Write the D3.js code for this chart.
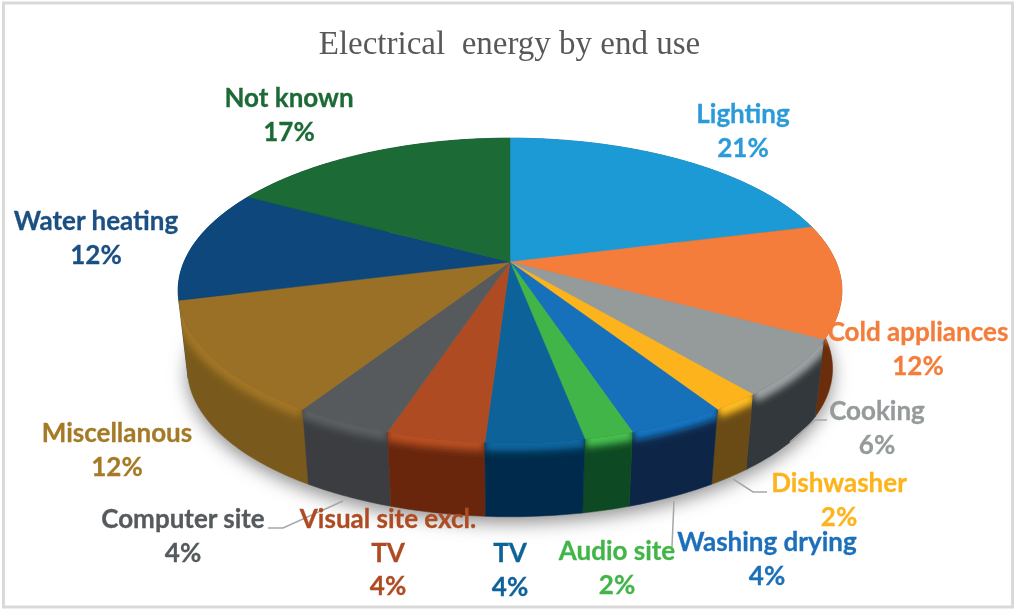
<!DOCTYPE html>
<html>
<head>
<meta charset="utf-8">
<script src="https://d3js.org/d3.v7.min.js"></script>
<style>
  html, body { margin: 0; padding: 0; background: #fff; }
  svg { display: block; }
  text { font-family: Lato, "Open Sans", sans-serif; font-weight: 700; }
</style>
</head>
<body>
<div id="chart-area"></div>
<script>
// Values
var categories = ["Lighting", "Cold appliances", "Cooking", "Dishwasher", "Washing drying", "Audio site",
    "TV", "Visual site excl. TV", "Computer site", "Miscellanous", "Water heating", "Not known"];
var shares = [21, 12, 6, 2, 4, 2, 4, 4, 4, 12, 12, 17];

var topColors = ["#1f9ad6", "#f47d3a", "#959a9b", "#fdb41e", "#1570ba", "#43b549",
    "#0a6399", "#ae4c22", "#565a5c", "#9a6f25", "#09467b", "#1d6a36"];
var sideColors = ["#0f4d6b", "#6b2d0c", "#33383b", "#6b4c14", "#0d2747", "#0f4a22",
    "#042c4b", "#6a2810", "#3b3e40", "#7a5a1c", "#0a3d70", "#0f3a1d"];
var textColors = ["#2a9bd8", "#f47d3a", "#959a9b", "#fdb41e", "#1e6fba", "#43b549",
    "#0f6499", "#ae4c22", "#565a5c", "#a57a28", "#1a4f82", "#1d6a36"];

// Where each label sits: centre x, first baseline, wrapped lines
var labelLayout = [
    { x: 743, y: 123, lines: ["Lighting"] },
    { x: 918, y: 341, lines: ["Cold appliances"] },
    { x: 877, y: 420, lines: ["Cooking"] },
    { x: 839, y: 492, lines: ["Dishwasher"] },
    { x: 767, y: 551, lines: ["Washing drying"] },
    { x: 617, y: 560, lines: ["Audio site"] },
    { x: 510, y: 562, lines: ["TV"] },
    { x: 388, y: 528, lines: ["Visual site excl.", "TV"] },
    { x: 183, y: 528, lines: ["Computer site"] },
    { x: 117, y: 442, lines: ["Miscellanous"] },
    { x: 96, y: 230, lines: ["Water heating"] },
    { x: 289, y: 107, lines: ["Not known"] }
];

var leaders = [
    [[790, 442], [815, 420], [827, 420]],
    [[733, 479], [753, 492], [767, 492]],
    [[674, 501], [672, 547]],
    [[343, 501], [283, 528], [268, 528]]
];

var width = 1017, height = 610;

// Pie geometry: apex of the tilted disc, perspective factor, thickness
var apex = { x: 510, y: 262 };
var radiusX = 326, radiusY = 147, persp = 0.187;
var depthShift = 79, depthScale = 0.972;

function rimPoint(a) {
    var s = 1 / (1 + persp * Math.cos(a));
    return [apex.x + radiusX * Math.sin(a) * s, apex.y - radiusY * Math.cos(a) * s];
}

function lowerPoint(a) {
    var p = rimPoint(a);
    return [apex.x + (p[0] - apex.x) * depthScale, apex.y + depthShift + (p[1] - apex.y) * depthScale];
}

function rimPoints(d, fn) {
    var pts = [];
    var n = Math.max(4, Math.ceil((d.endAngle - d.startAngle) * 60));
    for (var i = 0; i <= n; i++) {
        pts.push(fn(d.startAngle + (d.endAngle - d.startAngle) * i / n));
    }
    return pts;
}

var line = d3.line();

var svg = d3.select("#chart-area")
    .append("svg")
        .attr("width", width)
        .attr("height", height);

var defs = svg.append("defs");
defs.append("filter").attr("id", "soft")
    .attr("x", "-10%").attr("y", "-10%").attr("width", "120%").attr("height", "120%")
    .append("feGaussianBlur").attr("stdDeviation", 0.5);
defs.append("filter").attr("id", "bevel")
    .attr("filterUnits", "userSpaceOnUse")
    .attr("x", 0).attr("y", 0).attr("width", width).attr("height", height)
    .append("feGaussianBlur").attr("stdDeviation", 3.5);
defs.append("filter").attr("id", "shadow")
    .attr("filterUnits", "userSpaceOnUse")
    .attr("x", 0).attr("y", 0).attr("width", width).attr("height", height)
    .append("feGaussianBlur").attr("stdDeviation", 9);

var g = svg.append("g").attr("filter", "url(#soft)");

// Frame
g.append("rect")
    .attr("x", 3.5).attr("y", 3)
    .attr("width", width - 8).attr("height", height - 6)
    .attr("fill", "#fff")
    .attr("stroke", "#d9d9d9")
    .attr("stroke-width", 3);

// Title
g.append("text")
    .attr("x", 509.5)
    .attr("y", 54)
    .attr("text-anchor", "middle")
    .attr("fill", "#595959")
    .style("font-family", "'Liberation Serif', serif")
    .style("font-weight", 400)
    .style("font-size", "33px")
    .style("white-space", "pre")
    .text("Electrical  energy by end use");

var pie = d3.pie().sort(null).startAngle(0).endAngle(2 * Math.PI);
var slices = pie(shares).map(function(d) {
    d.name = categories[d.index];
    return d;
});

// Soft shadow on the ground below the disc
var whole = { startAngle: 0, endAngle: 2 * Math.PI };
g.append("path")
    .attr("d", line(rimPoints(whole, lowerPoint)) + "Z")
    .attr("transform", "translate(0,6)")
    .attr("fill", "#8f8f8f")
    .attr("filter", "url(#shadow)");

// Sides, back to front
var sideOrder = slices.slice().sort(function(a, b) {
    return Math.cos((b.startAngle + b.endAngle) / 2) - Math.cos((a.startAngle + a.endAngle) / 2);
});

var sides = g.append("g").attr("class", "sides");
sideOrder.forEach(function(d) {
    var upper = rimPoints(d, rimPoint);
    var lower = rimPoints(d, lowerPoint).reverse();
    var outline = line(upper.concat(lower)) + "Z";
    var id = "side-" + d.index;

    defs.append("clipPath").attr("id", id)
        .append("path").attr("d", outline);

    sides.append("path")
        .attr("d", outline)
        .attr("fill", sideColors[d.index])
        .attr("stroke", sideColors[d.index])
        .attr("stroke-width", 0.5);

    // rounded edge where the top turns into the side
    sides.append("g")
        .attr("clip-path", "url(#" + id + ")")
        .append("path")
            .attr("d", line(upper))
            .attr("fill", "none")
            .attr("stroke", d3.color(topColors[d.index]).brighter(0.15))
            .attr("stroke-width", 17)
            .attr("filter", "url(#bevel)");
});

// Top face
g.append("g").attr("class", "top")
    .selectAll("path")
    .data(slices)
    .enter()
    .append("path")
        .attr("d", function(d) {
            return line([[apex.x, apex.y]].concat(rimPoints(d, rimPoint))) + "Z";
        })
        .attr("fill", function(d) { return topColors[d.index]; })
        .attr("stroke", function(d) { return topColors[d.index]; })
        .attr("stroke-width", 0.5);

// Leader lines
g.append("g").selectAll("path")
    .data(leaders)
    .enter()
    .append("path")
        .attr("d", function(d) { return line(d); })
        .attr("fill", "none")
        .attr("stroke", "#a6a6a6")
        .attr("stroke-width", 1.5);

// Labels
var lineStep = 33.5;
var labels = g.append("g").selectAll("text")
    .data(slices)
    .enter()
    .append("text")
        .attr("text-anchor", "middle")
        .attr("fill", function(d) { return textColors[d.index]; })
        .attr("stroke", function(d) { return textColors[d.index]; })
        .attr("stroke-width", 0.3)
        .style("font-size", "26px");

labels.each(function(d) {
    var layout = labelLayout[d.index];
    var rows = layout.lines.concat([d.value + "%"]);
    d3.select(this).selectAll("tspan")
        .data(rows)
        .enter()
        .append("tspan")
            .attr("x", layout.x)
            .attr("y", function(r, i) { return layout.y + i * lineStep; })
            .text(function(r) { return r; });
});
</script>
</body>
</html>
